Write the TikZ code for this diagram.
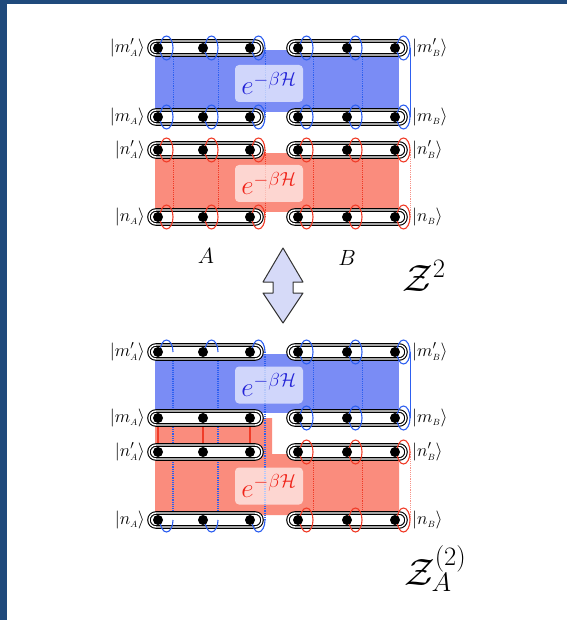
\RequirePackage{fix-cm}
\documentclass[tikz,border=0pt]{standalone}
\usetikzlibrary{shapes.geometric}
\pgfdeclarelayer{bg}
\pgfdeclarelayer{mid}
\pgfdeclarelayer{top}
\pgfsetlayers{bg,mid,main,top}
\definecolor{frameblue}{RGB}{31,74,124}
\definecolor{rectblue}{RGB}{122,140,245}
\definecolor{rectred}{RGB}{250,140,125}
\definecolor{loopblue}{RGB}{45,95,240}
\definecolor{loopred}{RGB}{240,60,40}
\definecolor{txtblue}{RGB}{35,35,215}
\definecolor{txtred}{RGB}{240,35,25}
\definecolor{arrowfill}{RGB}{214,218,248}
\begin{document}
\begin{tikzpicture}[x=1pt,y=-1pt,
  dot/.style={circle,fill=black,inner sep=0pt,minimum size=10pt},
  chainbox/.style={draw=black,line width=1.1pt,double=white,double distance=1.4pt,fill=white,rounded corners=7pt,inner sep=0pt,minimum height=14pt},
  loopb/.style={ellipse,draw=loopblue,line width=1.1pt,inner sep=0pt,minimum width=13pt,minimum height=24pt},
  loopr/.style={ellipse,draw=loopred,line width=1.1pt,inner sep=0pt,minimum width=13pt,minimum height=24pt},
  arcb/.style={draw=loopblue,line width=1.1pt},
  dotb/.style={draw=loopblue,line width=1.2pt,densely dotted},
  dotr/.style={draw=loopred,line width=1.2pt,densely dotted},
  lbl/.style={font=\fontsize{18}{20}\selectfont,inner sep=0pt},
  expbox/.style={fill=white,fill opacity=0.65,text opacity=1,rounded corners=4pt,minimum width=68pt,minimum height=37pt,inner sep=0pt,font=\fontsize{27}{30}\selectfont},
  bigz/.style={font=\fontsize{38}{40}\selectfont,inner sep=0pt},
  ablbl/.style={font=\fontsize{22}{24}\selectfont,inner sep=0pt},
]
\useasboundingbox (0,0) rectangle (567,620);
\begin{pgfonlayer}{bg}
  \fill[frameblue] (0,0) rectangle (567,620);
  \fill[white] (7,4) rectangle (567,620);
  % top diagram rectangles
  \fill[rectblue] (155,50) rectangle (399,112);
  \fill[rectred] (155,153) rectangle (399,212);
  % lower diagram
  \fill[rectblue] (155,354) rectangle (399,413);
  \fill[rectred] (155,418) -- (272,418) -- (272,454) -- (399,454) -- (399,515) -- (155,515) -- cycle;
\end{pgfonlayer}

% dots (top layer)
\begin{pgfonlayer}{top}
\foreach \i/\x in {1/158,2/203,3/250,4/298,5/347,6/395}{
  \node[dot] (T-mp-\i) at (\x,48) {};
  \node[dot] (T-m-\i) at (\x,117) {};
  \node[dot] (T-np-\i) at (\x,150) {};
  \node[dot] (T-n-\i) at (\x,217) {};
  \node[dot] (L-mp-\i) at (\x,352) {};
  \node[dot] (L-m-\i) at (\x,418) {};
  \node[dot] (L-np-\i) at (\x,452) {};
  \node[dot] (L-n-\i) at (\x,520) {};
}
\end{pgfonlayer}

% loops (main layer)
\foreach \i/\x in {1/158,2/203,3/250,4/298,5/347,6/395}{
  \node[loopb] (T-bt-\i) at (\x+8.5,48) {};
  \node[loopb] (T-bb-\i) at (\x+8.5,117) {};
  \node[loopr] (T-rt-\i) at (\x+8.5,150) {};
  \node[loopr] (T-rb-\i) at (\x+8.5,217) {};
}
\foreach \i/\x in {4/298,5/347,6/395}{
  \node[loopb] (L-bt-\i) at (\x+8.5,352) {};
  \node[loopb] (L-bb-\i) at (\x+8.5,418) {};
  \node[loopr] (L-rt-\i) at (\x+8.5,452) {};
  \node[loopr] (L-rb-\i) at (\x+8.5,520) {};
}
\foreach \i/\x in {1/158,2/203,3/250}{
  \draw[arcb] (\x+2,352) arc[start angle=180,end angle=360,x radius=6.5,y radius=12];
  \draw[arcb] (\x+2,520) arc[start angle=180,end angle=0,x radius=6.5,y radius=12];
  \coordinate (L-at-\i) at (\x+15,352);
  \coordinate (L-ab-\i) at (\x+15,520);
}

\begin{pgfonlayer}{mid}
  % vertical loop lines
  \foreach \i in {1,...,5}{
    \draw[dotb] (T-bt-\i.east) -- (T-bb-\i.east);
    \draw[dotr] (T-rt-\i.east) -- (T-rb-\i.east);
  }
  \draw[loopblue,line width=1.1pt] (T-bt-6.east) -- (T-bb-6.east);
  \draw[dotr,draw=loopred!55] (T-rt-6.east) -- (T-rb-6.east);
  \foreach \i in {4,5}{
    \draw[dotb] (L-bt-\i.east) -- (L-bb-\i.east);
    \draw[dotr] (L-rt-\i.east) -- (L-rb-\i.east);
  }
  \draw[loopblue,line width=1.1pt] (L-bt-6.east) -- (L-bb-6.east);
  \draw[dotr,draw=loopred!55] (L-rt-6.east) -- (L-rb-6.east);
  \foreach \i in {1,2,3}{
    \draw[dotb] (L-at-\i) -- (L-ab-\i);
    \draw[loopred,line width=1.4pt] (L-m-\i) -- (L-np-\i);
  }
  % exponential labels
  \node[expbox,text=txtblue] (T-eb) at (269,83.5) {$e^{-\beta\mathcal{H}}$};
  \node[expbox,text=txtred] (T-er) at (269,183.5) {$e^{-\beta\mathcal{H}}$};
  \node[expbox,text=txtblue] (L-eb) at (269,385) {$e^{-\beta\mathcal{H}}$};
  \node[expbox,text=txtred] (L-er) at (269,486) {$e^{-\beta\mathcal{H}}$};
  % chains
  \foreach \r/\y in {T-mp/48,T-m/117,T-np/150,T-n/217,L-mp/352,L-m/418,L-np/452,L-n/520}{
    \node[chainbox,minimum width=113pt] (\r-cA) at (205.5,\y) {};
    \node[chainbox,minimum width=118pt] (\r-cB) at (347,\y) {};
  }
\end{pgfonlayer}

% state labels
\foreach \d/\a/\b/\c/\e in {T/48/117/150/217,L/352/418/452/520}{
  \node[lbl,anchor=east] (\d-lmpA) at (145,\a) {$|m'_{\scriptscriptstyle A}\rangle$};
  \node[lbl,anchor=east] (\d-lmA) at (145,\b) {$|m_{\scriptscriptstyle A}\rangle$};
  \node[lbl,anchor=east] (\d-lnpA) at (145,\c) {$|n'_{\scriptscriptstyle A}\rangle$};
  \node[lbl,anchor=east] (\d-lnA) at (145,\e) {$|n_{\scriptscriptstyle A}\rangle$};
  \node[lbl,anchor=west] (\d-lmpB) at (412,\a) {$|m'_{\scriptscriptstyle B}\rangle$};
  \node[lbl,anchor=west] (\d-lmB) at (412,\b) {$|m_{\scriptscriptstyle B}\rangle$};
  \node[lbl,anchor=west] (\d-lnpB) at (412,\c) {$|n'_{\scriptscriptstyle B}\rangle$};
  \node[lbl,anchor=west] (\d-lnB) at (412,\e) {$|n_{\scriptscriptstyle B}\rangle$};
}

\node[ablbl] (labA) at (206,256) {$A$};
\node[ablbl] (labB) at (347,258) {$B$};
\node[bigz,anchor=base west] (z2) at (402,291) {$\mathcal{Z}^2$};
\node[bigz,anchor=base west] (zA2) at (404,585) {$\mathcal{Z}_A^{(2)}$};

% double arrow
\draw[fill=arrowfill,draw=black!80,line width=1pt,line join=round]
  (283,248) -- (303,282) -- (293,282) -- (293,293) -- (303,293) -- (283,323)
  -- (263,293) -- (273,293) -- (273,282) -- (263,282) -- cycle;
\end{tikzpicture}
\end{document}
